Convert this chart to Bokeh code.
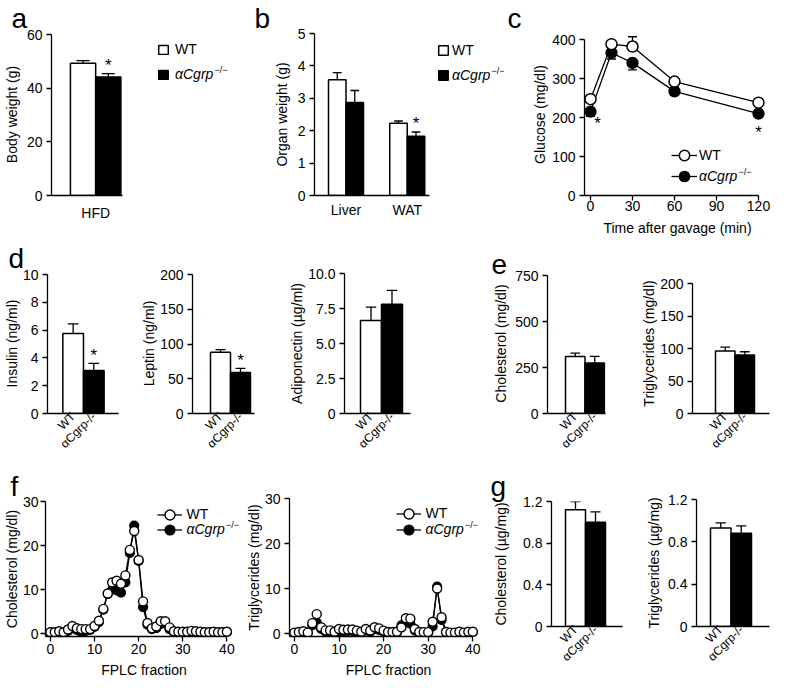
import math
from bokeh.plotting import figure
from bokeh.models import (Range1d, Legend, LegendItem, Label, Whisker, TeeHead,
                          ColumnDataSource, FixedTicker)
from bokeh.layouts import row, column
from bokeh.embed import file_html
from bokeh.resources import INLINE
from bokeh.core.properties import value

FONT = "Liberation Sans"

# ---------------- data ----------------
wt_name = "WT"
ko_name = "αCgrp"
ko_sup = "−/−"
ko_tick = "αCgrp-/-"

# a  body weight
a_groups = ["HFD"]
a_wt = [49.3]
a_wt_err = [1.0]
a_ko = [44.2]
a_ko_err = [1.2]
a_sig = [True]
a_yticks = [0, 20, 40, 60]

# b  organ weight
b_groups = ["Liver", "WAT"]
b_wt = [3.57, 2.23]
b_wt_err = [0.22, 0.07]
b_ko = [2.87, 1.83]
b_ko_err = [0.37, 0.13]
b_sig = [False, True]
b_yticks = [0, 1, 2, 3, 4, 5]

# c  glucose
c_time = [0, 15, 30, 60, 120]
c_wt = [247, 388, 382, 292, 238]
c_wt_err = [10, 5, 25, 8, 6]
c_ko = [215, 366, 340, 267, 210]
c_ko_err = [12, 16, 18, 9, 7]
c_sig_time = [5, 120]
c_sig_val = [195, 172]
c_xticks = [0, 30, 60, 90, 120]
c_yticks = [0, 100, 200, 300, 400]

# d
d_ins_wt = [5.75]; d_ins_wt_err = [0.7]
d_ins_ko = [3.1]; d_ins_ko_err = [0.5]; d_ins_sig = [True]
d_ins_yticks = [0, 2, 4, 6, 8, 10]
d_lep_wt = [88]; d_lep_wt_err = [4]
d_lep_ko = [59]; d_lep_ko_err = [6]; d_lep_sig = [True]
d_lep_yticks = [0, 50, 100, 150, 200]
d_adi_wt = [6.65]; d_adi_wt_err = [0.95]
d_adi_ko = [7.8]; d_adi_ko_err = [1.0]; d_adi_sig = [False]
d_adi_yticks = [0, 2.5, 5, 7.5, 10]
d_adi_ylabels = ["0", "2.5", "5.0", "7.5", "10.0"]

# e
e_chol_wt = [310]; e_chol_wt_err = [18]
e_chol_ko = [275]; e_chol_ko_err = [35]; e_chol_sig = [False]
e_chol_yticks = [0, 250, 500, 750]
e_tg_wt = [96]; e_tg_wt_err = [6]
e_tg_ko = [90]; e_tg_ko_err = [5]; e_tg_sig = [False]
e_tg_yticks = [0, 50, 100, 150, 200]

# f  FPLC
fraction = list(range(0, 41))
f_chol_wt = [0.3, 0.3, 0.5, 0.3, 0.9, 1.7, 1.2, 1.0, 1.0, 1.0,
             1.7, 2.9, 5.6, 9.1, 11.6, 12.0, 11.3, 13.2, 19.0, 23.3,
             16.7, 7.3, 2.4, 1.2, 1.6, 2.8, 2.8, 1.4, 0.5, 0.4,
             0.4, 0.4, 0.6, 0.5, 0.4, 0.3, 0.3, 0.4, 0.3, 0.3, 0.4]
f_chol_ko = [0.2, 0.2, 0.3, 0.2, 0.6, 1.2, 0.8, 0.3, 0.6, 0.8,
             1.5, 2.6, 5.4, 9.0, 10.0, 9.8, 9.3, 11.6, 18.3, 24.5,
             16.5, 6.0, 2.0, 1.0, 1.2, 2.2, 2.3, 1.0, 0.3, 0.3,
             0.3, 0.3, 0.4, 0.3, 0.3, 0.2, 0.2, 0.3, 0.2, 0.2, 0.3]
f_tg_wt = [0.2, 0.35, 0.5, 0.2, 2.3, 4.3, 1.4, 0.7, 0.7, 0.4,
           1.0, 0.85, 0.9, 0.9, 0.65, 0.4, 1.0, 0.65, 1.4, 1.15,
           0.65, 0.35, 0.35, 0.4, 1.35, 3.4, 3.3, 1.0, 0.35, 0.3,
           0.3, 2.6, 10.0, 3.6, 0.35, 0.2, 0.2, 0.4, 0.2, 0.4, 0.4]
f_tg_ko = [0.1, 0.2, 0.3, 0.1, 1.8, 2.4, 1.0, 0.4, 0.4, 0.2,
           0.0, 0.5, 0.6, 0.6, 0.4, 0.2, 0.7, 0.4, 1.0, 0.8,
           0.4, 0.2, 0.2, 0.3, 1.8, 2.8, 2.2, 0.7, 0.2, 0.2,
           0.2, 1.6, 10.4, 3.0, 0.3, 0.1, 0.1, 0.3, 0.1, 0.3, 0.3]
f_xticks = [0, 10, 20, 30, 40]
f_yticks = [0, 10, 20, 30]

# g  liver lipids
g_chol_wt = [1.12]; g_chol_wt_err = [0.08]
g_chol_ko = [1.0]; g_chol_ko_err = [0.1]; g_chol_sig = [False]
g_tg_wt = [0.93]; g_tg_wt_err = [0.05]
g_tg_ko = [0.88]; g_tg_ko_err = [0.07]; g_tg_sig = [False]
g_yticks = [0, 0.4, 0.8, 1.2]
g_ylabels = ["0", "0.4", "0.8", "1.2"]


# ---------------- helpers ----------------
def lin_range(v0, px0, v1, px1, f0, f1):
    k = (v1 - v0) / (px1 - px0)
    return Range1d(v0 + (f0 - px0) * k, v0 + (f1 - px0) * k)


def setup_fig(w, h, fl, fr, ft, fb, xr, yr):
    p = figure(width=w, height=h, x_range=xr, y_range=yr, output_backend="svg",
               toolbar_location=None, min_border_left=fl, min_border_right=w - fr,
               min_border_top=ft, min_border_bottom=h - fb)
    p.outline_line_color = None
    p.grid.visible = False
    p.background_fill_color = "white"
    p.border_fill_color = "white"
    for ax in list(p.xaxis) + list(p.yaxis):
        ax.axis_line_color = "black"
        ax.axis_line_width = 1.3
        ax.major_tick_line_color = "black"
        ax.major_tick_line_width = 1.3
        ax.major_tick_out = 5
        ax.major_tick_in = 0
        ax.minor_tick_line_color = None
        ax.major_label_text_font = FONT
        ax.major_label_text_font_size = "14px"
        ax.major_label_text_color = "black"
        ax.major_label_standoff = 4
        ax.axis_label_text_font = FONT
        ax.axis_label_text_font_size = "14px"
        ax.axis_label_text_font_style = "normal"
        ax.axis_label_text_color = "black"
    return p


def panel_letter(p, letter, offset):
    p.title.text = letter
    p.title.text_font = FONT
    p.title.text_font_size = "28px"
    p.title.text_font_style = "normal"
    p.title.text_color = "black"
    p.title.align = "left"
    p.title.offset = offset
    p.title.standoff = 0


def set_title(ax, text, standoff):
    ax.axis_label = text
    ax.axis_label_standoff = standoff


def sup_label(p, fl, fb, cx, cy):
    p.add_layout(Label(x=cx - fl, y=fb - cy, x_units="screen", y_units="screen",
                       text=ko_sup, text_align="left", text_baseline="middle",
                       text_font=FONT, text_font_size="9px", text_color="black"))


def make_legend(p, fl, fb, entries, gw, gh, standoff, left):
    # entries: (renderers, label, style, glyph_top)   positions in canvas px
    ih = max(gh, 17)
    for rs, lab, style, top in entries:
        leg = Legend(items=[LegendItem(label=lab, renderers=rs)],
                     location=(left - fl, fb - (top + ih)),
                     glyph_width=gw, glyph_height=gh, label_height=gh,
                     label_standoff=standoff, padding=0, margin=0, spacing=0,
                     border_line_color=None, background_fill_alpha=0,
                     label_text_font=FONT, label_text_font_size="14px",
                     label_text_font_style=style, label_text_color="black",
                     label_text_baseline="middle")
        p.add_layout(leg)
    ko_top = entries[1][3]
    sup_label(p, fl, fb, left + gw + standoff + 39, ko_top + ih / 2 - 4.5)


def bar_panel(w, h, fl, fr, ft, fb, bar_left, bw, wt, wt_err, ko, ko_err, sig,
              ymax, ytop_px, yticks, ylabels=None, groups=None, group_standoff=7,
              axis_end=None, gap=3.5):
    x0 = -(bar_left - fl) / bw
    xr = Range1d(x0, x0 + (fr - fl) / bw)
    yr = Range1d(0, ymax * (fb - ft) / (fb - ytop_px))
    p = setup_fig(w, h, fl, fr, ft, fb, xr, yr)
    p.yaxis.bounds = (0, ymax)
    if axis_end is not None:
        p.xaxis.bounds = (x0, x0 + (axis_end - fl) / bw)
    n = len(wt)
    wt_x = [i * gap + 0.5 for i in range(n)]
    ko_x = [i * gap + 1.5 for i in range(n)]
    r_wt = p.vbar(x=wt_x, top=wt, bottom=0, width=1, fill_color="white",
                  line_color="black", line_width=1.5)
    r_ko = p.vbar(x=ko_x, top=ko, bottom=0, width=1, fill_color="black",
                  line_color="black", line_width=1.5)
    for xs, v, e in ((wt_x, wt, wt_err), (ko_x, ko, ko_err)):
        src = ColumnDataSource(dict(x=xs, lower=v, upper=[a + b for a, b in zip(v, e)]))
        p.add_layout(Whisker(source=src, base="x", lower="lower", upper="upper",
                             line_color="black", line_width=1.3,
                             upper_head=TeeHead(size=bw * 0.5, line_width=1.3,
                                                line_color="black"),
                             lower_head=None))
    sx = [ko_x[i] for i in range(n) if sig[i]]
    sy = [ko[i] + ko_err[i] for i in range(n) if sig[i]]
    if sx:
        p.text(x=sx, y=sy, text=["*"] * len(sx), text_font=value(FONT),
               text_font_size="17px", text_align="center", text_baseline="middle",
               y_offset=-8, text_color="black")
    p.yaxis.ticker = FixedTicker(ticks=yticks)
    labs = ylabels if ylabels else [str(t) for t in yticks]
    p.yaxis.major_label_overrides = {t: l for t, l in zip(yticks, labs)}
    p.xaxis.major_tick_line_color = None
    p.xaxis.major_tick_out = 0
    if groups:
        centers = [i * gap + 1.0 for i in range(n)]
        p.xaxis.ticker = FixedTicker(ticks=centers)
        p.xaxis.major_label_overrides = {c: g for c, g in zip(centers, groups)}
        p.xaxis.major_label_standoff = group_standoff
    else:
        p.xaxis.ticker = FixedTicker(ticks=[wt_x[0], ko_x[0]])
        p.xaxis.major_label_overrides = {wt_x[0]: wt_name, ko_x[0]: ko_tick}
        p.xaxis.major_label_orientation = math.pi / 4
        p.xaxis.major_label_text_font_size = "12px"
        p.xaxis.major_label_standoff = 1
    return p, r_wt, r_ko


def solo(p):
    return column(p)


# ---------------- row 1 (height 240, frame 33..195) ----------------
pa, ra_wt, ra_ko = bar_panel(250, 240, 45, 250, 33, 195, 64.5, 26, a_wt, a_wt_err,
                             a_ko, a_ko_err, a_sig, 60, 34, a_yticks, groups=a_groups,
                             group_standoff=9, axis_end=118)
set_title(pa.yaxis[0], "Body weight (g)", 4)
panel_letter(pa, "a", -40)
make_legend(pa, 45, 195, [([ra_wt], wt_name, "normal", 40), ([ra_ko], ko_name, "italic", 65)],
            12, 11, 6, 151)

pb, rb_wt, rb_ko = bar_panel(254, 240, 64, 254, 33, 195, 78, 17.5, b_wt, b_wt_err,
                             b_ko, b_ko_err, b_sig, 5, 33, b_yticks, groups=b_groups,
                             group_standoff=6, axis_end=179)
set_title(pb.yaxis[0], "Organ weight (g)", 5)
panel_letter(pb, "b", -60)
make_legend(pb, 64, 195, [([rb_wt], wt_name, "normal", 41), ([rb_ko], ko_name, "italic", 66)],
            12, 12, 3, 187)

# c
xr_c = lin_range(0, 86, 120, 254, 80, 266)
yr_c = lin_range(0, 195, 400, 39, 195, 33)
pc = setup_fig(266, 240, 80, 266, 33, 195, xr_c, yr_c)
pc.xaxis.bounds = (xr_c.start, 120)
pc.yaxis.bounds = (0, 400)
pc.xaxis.ticker = FixedTicker(ticks=c_xticks)
pc.yaxis.ticker = FixedTicker(ticks=c_yticks)
pc.xaxis.major_label_standoff = 0
set_title(pc.yaxis[0], "Glucose (mg/dl)", 1)
set_title(pc.xaxis[0], "Time after gavage (min)", 6)
panel_letter(pc, "c", -77)
pc.add_layout(Whisker(source=ColumnDataSource(dict(
    x=c_time, lower=c_wt, upper=[v + e for v, e in zip(c_wt, c_wt_err)])),
    base="x", lower="lower", upper="upper", line_color="black", line_width=1.3,
    upper_head=TeeHead(size=9, line_width=1.3, line_color="black"), lower_head=None,
    level="underlay"))
pc.add_layout(Whisker(source=ColumnDataSource(dict(
    x=c_time, lower=[v - e for v, e in zip(c_ko, c_ko_err)], upper=c_ko)),
    base="x", lower="lower", upper="upper", line_color="black", line_width=1.3,
    lower_head=TeeHead(size=9, line_width=1.3, line_color="black"), upper_head=None,
    level="underlay"))
lc_ko = pc.line(c_time, c_ko, line_color="black", line_width=1.3)
sc_ko = pc.scatter(c_time, c_ko, marker="circle", size=11, fill_color="black",
                   line_color="black", line_width=1.3)
lc_wt = pc.line(c_time, c_wt, line_color="black", line_width=1.3)
sc_wt = pc.scatter(c_time, c_wt, marker="circle", size=11, fill_color="white",
                   line_color="black", line_width=1.5)
pc.text(x=c_sig_time, y=c_sig_val, text=["*"] * len(c_sig_time), text_font=value(FONT),
        text_font_size="17px", text_align="center", text_baseline="middle", y_offset=4,
        text_color="black")
make_legend(pc, 80, 195, [([lc_wt, sc_wt], wt_name, "normal", 155 - 13),
                          ([lc_ko, sc_ko], ko_name, "italic", 176 - 13)],
            26, 26, 2, 167)

# ---------------- row 2 (height 228, frame 33..173) ----------------
R2H, R2T, R2B = 228, 33, 173
pd1, _, _ = bar_panel(132, R2H, 44, 118, R2T, R2B, 60, 21.5, d_ins_wt, d_ins_wt_err,
                      d_ins_ko, d_ins_ko_err, d_ins_sig, 10, 34, d_ins_yticks)
set_title(pd1.yaxis[0], "Insulin (ng/ml)", 0)
panel_letter(pd1, "d", -39)
pd2, _, _ = bar_panel(150, R2H, 60, 122, R2T, R2B, 78, 20, d_lep_wt, d_lep_wt_err,
                      d_lep_ko, d_lep_ko_err, d_lep_sig, 200, 34, d_lep_yticks)
set_title(pd2.yaxis[0], "Leptin (ng/ml)", 0)
pd3, _, _ = bar_panel(180, R2H, 62, 128, R2T, R2B, 78, 21, d_adi_wt, d_adi_wt_err,
                      d_adi_ko, d_adi_ko_err, d_adi_sig, 10, 33, d_adi_yticks,
                      ylabels=d_adi_ylabels)
set_title(pd3.yaxis[0], "Adiponectin (µg/ml)", 0)
pe1, _, _ = bar_panel(170, R2H, 85, 143, R2T, R2B, 103, 19.5, e_chol_wt, e_chol_wt_err,
                      e_chol_ko, e_chol_ko_err, e_chol_sig, 750, 35, e_chol_yticks)
set_title(pe1.yaxis[0], "Cholesterol (mg/dl)", 3)
panel_letter(pe1, "e", -56)
pe2, _, _ = bar_panel(138, R2H, 60, 137, R2T, R2B, 83, 19.5, e_tg_wt, e_tg_wt_err,
                      e_tg_ko, e_tg_ko_err, e_tg_sig, 200, 43, e_tg_yticks)
set_title(pe2.yaxis[0], "Triglycerides (mg/dl)", 0)


# ---------------- row 3 (height 213) ----------------
R3H = 213


def fplc_panel(w, fl, ax0_px, ax40_px, y0_px, y30_px, fb, ft, wt, ko, ytitle,
               ystand, leg_cx, leg_wt_cy, leg_ko_cy):
    xr = lin_range(0, ax0_px, 40, ax40_px, fl, w)
    yr = lin_range(0, y0_px, 30, y30_px, fb, ft)
    p = setup_fig(w, R3H, fl, w, ft, fb, xr, yr)
    p.xaxis.bounds = (xr.start, 40)
    p.yaxis.bounds = (yr.start, 30)
    p.xaxis.ticker = FixedTicker(ticks=f_xticks)
    p.yaxis.ticker = FixedTicker(ticks=f_yticks)
    p.xaxis.major_label_standoff = 2
    set_title(p.yaxis[0], ytitle, ystand)
    set_title(p.xaxis[0], "FPLC fraction", 5)
    lk = p.line(fraction, ko, line_color="black", line_width=1.3)
    lw = p.line(fraction, wt, line_color="black", line_width=1.3)
    sk = p.scatter(fraction, ko, marker="circle", size=9, fill_color="black",
                   line_color="black", line_width=1.2)
    sw = p.scatter(fraction, wt, marker="circle", size=9, fill_color="white",
                   line_color="black", line_width=1.4)
    g = 25
    make_legend(p, fl, fb, [([lw, sw], wt_name, "normal", leg_wt_cy - g / 2),
                            ([lk, sk], ko_name, "italic", leg_ko_cy - g / 2)],
                g, g, 5, leg_cx - g / 2)
    return p


pf1 = fplc_panel(242, 40, 45, 226, 165, 33, 168, 33, f_chol_wt, f_chol_ko,
                 "Cholesterol (mg/dl)", 0, 164, 46, 61)
pf1.yaxis.major_label_standoff = 2
panel_letter(pf1, "f", -35)
pf2 = fplc_panel(245, 43, 48, 230, 165, 30, 168, 30, f_tg_wt, f_tg_ko,
                 "Triglycerides (mg/dl)", 0, 162, 45, 61)

pg1, _, _ = bar_panel(145, R3H, 64, 135, 33, 158, 78, 20, g_chol_wt, g_chol_wt_err,
                      g_chol_ko, g_chol_ko_err, g_chol_sig, 1.2, 33, g_yticks,
                      ylabels=g_ylabels)
set_title(pg1.yaxis[0], "Cholesterol (µg/mg)", 11)
panel_letter(pg1, "g", -61)
pg2, _, _ = bar_panel(138, R3H, 64, 137, 31, 158, 78, 20.5, g_tg_wt, g_tg_wt_err,
                      g_tg_ko, g_tg_ko_err, g_tg_sig, 1.2, 31, g_yticks,
                      ylabels=g_ylabels)
set_title(pg2.yaxis[0], "Triglycerides (µg/mg)", 3)

layout = column(row(pa, pb, pc),
                row(pd1, pd2, pd3, pe1, pe2),
                row(solo(pf1), solo(pf2), solo(pg1), solo(pg2)))

open("out.html", "w").write(file_html(layout, INLINE, title="Figure"))
